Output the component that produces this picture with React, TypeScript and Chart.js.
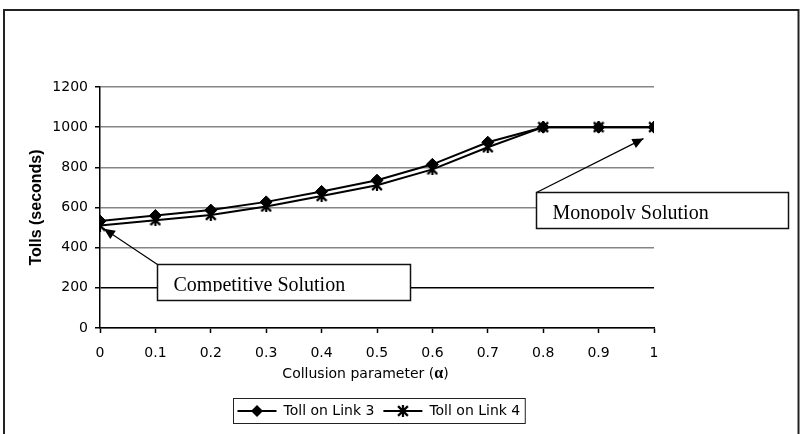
import React, { useEffect, useRef } from 'react';
import { Chart, registerables } from 'chart.js';

Chart.register(...registerables);

// Collusion parameter values and the tolls found for each link
const alphaValues = [0, 0.1, 0.2, 0.3, 0.4, 0.5, 0.6, 0.7, 0.8, 0.9, 1];
const alphaTickLabels = ['0', '0.1', '0.2', '0.3', '0.4', '0.5', '0.6', '0.7', '0.8', '0.9', '1'];
const tollLink3 = [533, 560, 587, 628, 680, 736, 815, 925, 1000, 1000, 1000];
const tollLink4 = [510, 537, 563, 605, 657, 711, 790, 900, 1000, 1000, 1000];
const seriesLabels = ['Toll on Link 3', 'Toll on Link 4'];

const tollMin = 0;
const tollMax = 1200;
const tollStep = 200;

const yAxisTitle = 'Tolls (seconds)';
const xAxisTitleParts = ['Collusion parameter (', 'α', ')'];

// Call-outs: label, arrow tip [alpha, toll], box [alphaLeft, tollTop, alphaRight, tollBottom]
const calloutTexts = ['Competitive Solution', 'Monopoly Solution'];
const calloutTips = [
  [0.007, 494],
  [0.981, 943],
];
const calloutBoxes = [
  [0.1034, 320, 0.5596, 141],
  [0.7865, 675, 1.2425, 498],
];

const SANS = "'DejaVu Sans', 'Liberation Sans', sans-serif";
const SERIF = "'Liberation Serif', 'DejaVu Serif', serif";

function makeAsterisk(size: number, lw: number): HTMLCanvasElement {
  const c = document.createElement('canvas');
  c.width = size;
  c.height = size;
  const g = c.getContext('2d')!;
  g.strokeStyle = '#000';
  g.lineWidth = lw;
  g.lineCap = 'butt';
  const m = lw / 2;
  g.beginPath();
  g.moveTo(m, m);
  g.lineTo(size - m, size - m);
  g.moveTo(size - m, m);
  g.lineTo(m, size - m);
  g.moveTo(size / 2, 0);
  g.lineTo(size / 2, size);
  g.stroke();
  return c;
}

function drawDiamond(ctx: CanvasRenderingContext2D, x: number, y: number, r: number) {
  ctx.beginPath();
  ctx.moveTo(x, y - r);
  ctx.lineTo(x + r, y);
  ctx.lineTo(x, y + r);
  ctx.lineTo(x - r, y);
  ctx.closePath();
  ctx.fillStyle = '#000';
  ctx.fill();
}

function makeDecorations(star: HTMLCanvasElement) {
  return {
    id: 'decorations',
    afterDraw(chart: any) {
      const { ctx, chartArea, scales } = chart;
      const xs = scales.x;
      const ys = scales.y;
      ctx.save();

      // call-out boxes with arrows
      calloutTexts.forEach((text, i) => {
        const [a0, t0, a1, t1] = calloutBoxes[i];
        const L = Math.round(xs.getPixelForValue(a0)) + 0.5;
        const R = Math.round(xs.getPixelForValue(a1)) + 0.5;
        const T = Math.round(ys.getPixelForValue(t0)) + 0.5;
        const B = Math.round(ys.getPixelForValue(t1)) + 0.5;
        const tx = xs.getPixelForValue(calloutTips[i][0]);
        const ty = ys.getPixelForValue(calloutTips[i][1]);

        // leader line
        ctx.strokeStyle = '#000';
        ctx.lineWidth = 1.2;
        ctx.beginPath();
        ctx.moveTo(L, T);
        ctx.lineTo(tx, ty);
        ctx.stroke();

        // arrow head
        const dx = tx - L;
        const dy = ty - T;
        const len = Math.hypot(dx, dy);
        const ux = dx / len;
        const uy = dy / len;
        const hl = 11;
        const hw = 5;
        const bx = tx - ux * hl;
        const by = ty - uy * hl;
        ctx.fillStyle = '#000';
        ctx.beginPath();
        ctx.moveTo(tx, ty);
        ctx.lineTo(bx - uy * hw, by + ux * hw);
        ctx.lineTo(bx + uy * hw, by - ux * hw);
        ctx.closePath();
        ctx.fill();

        // box
        ctx.fillStyle = '#fff';
        ctx.fillRect(L, T, R - L, B - T);
        ctx.strokeStyle = '#111';
        ctx.lineWidth = 1.5;
        ctx.strokeRect(L, T, R - L, B - T);

        // text, cut off at its baseline by the text area of the box
        ctx.save();
        ctx.beginPath();
        ctx.rect(L + 1, T + 1, R - L - 2, 26);
        ctx.clip();
        ctx.fillStyle = '#000';
        ctx.font = `20px ${SERIF}`;
        ctx.textAlign = 'left';
        ctx.textBaseline = 'alphabetic';
        ctx.fillText(text, L + 16, T + 26.5);
        ctx.restore();
      });

      // x axis title, with a bold serif alpha
      const partFonts = [`14px ${SANS}`, `bold 16px ${SERIF}`, `14px ${SANS}`];
      const widths = xAxisTitleParts.map((p, i) => {
        ctx.font = partFonts[i];
        return ctx.measureText(p).width;
      });
      const totalW = widths.reduce((s, w) => s + w, 0);
      let px = (chartArea.left + chartArea.right) / 2 - 11.5 - totalW / 2;
      const py = chartArea.bottom + 46;
      ctx.fillStyle = '#000';
      ctx.textBaseline = 'middle';
      ctx.textAlign = 'left';
      xAxisTitleParts.forEach((p, i) => {
        ctx.font = partFonts[i];
        ctx.fillText(p, px, py);
        px += widths[i];
      });

      // legend
      ctx.font = `14px ${SANS}`;
      const tw = seriesLabels.map((s) => ctx.measureText(s).width);
      const lineLen = 39;
      const boxW = 4 + lineLen + 7 + tw[0] + 9 + lineLen + 7 + tw[1] + 5;
      const boxL = Math.round((chartArea.left + chartArea.right) / 2 + 2 - boxW / 2) + 0.5;
      const boxT = Math.round(chartArea.bottom + 70) + 0.5;
      const boxH = 25;
      const cy = boxT + boxH / 2;
      ctx.strokeStyle = '#222';
      ctx.lineWidth = 1;
      ctx.strokeRect(boxL, boxT, boxW, boxH);

      let lx = boxL + 4;
      seriesLabels.forEach((s, i) => {
        ctx.strokeStyle = '#000';
        ctx.lineWidth = 2;
        ctx.beginPath();
        ctx.moveTo(lx, cy);
        ctx.lineTo(lx + lineLen, cy);
        ctx.stroke();
        const mx = lx + lineLen / 2;
        if (i === 0) {
          drawDiamond(ctx, mx, cy, 6);
        } else {
          ctx.drawImage(star, mx - star.width / 2, cy - star.height / 2);
        }
        lx += lineLen + 7;
        ctx.fillStyle = '#000';
        ctx.textBaseline = 'middle';
        ctx.textAlign = 'left';
        ctx.fillText(s, lx, cy + 0.5);
        lx += tw[i] + 9;
      });

      // outer frame
      ctx.strokeStyle = '#222';
      ctx.lineWidth = 2;
      ctx.strokeRect(4, 10, 794.5, 440);

      ctx.restore();
    },
  };
}

export default function App() {
  const ref = useRef<HTMLCanvasElement>(null);

  useEffect(() => {
    const canvas = ref.current;
    if (!canvas) return;
    const star = makeAsterisk(12, 2.2);

    const chart = new Chart(canvas, {
      type: 'line',
      data: {
        datasets: [
          {
            label: seriesLabels[0],
            data: alphaValues.map((a, i) => ({ x: a, y: tollLink3[i] })),
            borderColor: '#000',
            backgroundColor: '#000',
            borderWidth: 2,
            pointStyle: 'rectRot',
            pointRadius: 6,
            pointBorderWidth: 1,
            pointBackgroundColor: '#000',
            pointBorderColor: '#000',
            order: 1,
          },
          {
            label: seriesLabels[1],
            data: alphaValues.map((a, i) => ({ x: a, y: tollLink4[i] })),
            borderColor: '#000',
            backgroundColor: '#000',
            borderWidth: 2,
            pointStyle: star as any,
            pointRadius: 6,
            order: 0,
          },
        ],
      },
      options: {
        responsive: false,
        animation: false,
        devicePixelRatio: 1,
        events: [],
        layout: { padding: { left: 0, top: 87, right: 148, bottom: 46 } },
        plugins: {
          legend: { display: false },
          tooltip: { enabled: false },
        },
        scales: {
          x: {
            type: 'linear',
            min: alphaValues[0],
            max: alphaValues[alphaValues.length - 1],
            afterBuildTicks: (s: any) => {
              s.ticks = alphaValues.map((v) => ({ value: v }));
            },
            afterFit: (s: any) => {
              s.height = 60;
            },
            ticks: {
              callback: (_v: any, i: number) => alphaTickLabels[i],
              font: { family: SANS, size: 14 },
              color: '#000',
              padding: 12,
              maxRotation: 0,
              autoSkip: false,
            },
            grid: {
              drawOnChartArea: false,
              drawTicks: true,
              tickLength: 5,
              tickColor: '#000',
              tickWidth: 1.5,
            },
            border: { color: '#000', width: 1.5 },
          },
          y: {
            min: tollMin,
            max: tollMax,
            afterFit: (s: any) => {
              s.width = 100;
            },
            ticks: {
              stepSize: tollStep,
              callback: (v: any) => String(v),
              font: { family: SANS, size: 14 },
              color: '#000',
              padding: 7,
            },
            grid: {
              color: (c: any) => (c.tick && c.tick.value === 200 ? '#000' : '#858585'),
              lineWidth: 1.5,
              tickLength: 5,
              tickColor: '#000',
              tickWidth: 1.5,
            },
            border: { color: '#000', width: 1.5 },
            title: {
              display: true,
              text: yAxisTitle,
              font: { family: "'Liberation Sans', Arial, sans-serif", size: 16, weight: 'bold' },
              color: '#000',
              padding: { top: 27, bottom: 0 },
            },
          },
        },
      },
      plugins: [makeDecorations(star)],
    } as any);

    return () => chart.destroy();
  }, []);

  return (
    <div style={{ position: 'absolute', left: 0, top: 0, width: 802, height: 434, background: '#fff' }}>
      <canvas ref={ref} width={802} height={434} style={{ display: 'block' }} />
    </div>
  );
}
